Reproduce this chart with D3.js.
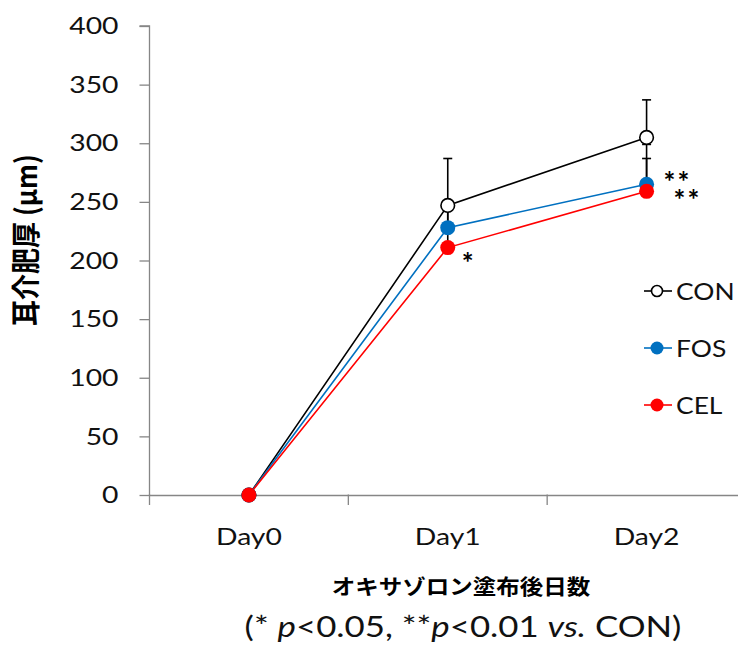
<!DOCTYPE html>
<html><head><meta charset="utf-8">
<script src="https://cdn.jsdelivr.net/npm/d3@7"></script>
<style>body{margin:0;background:#fff}svg{display:block}</style>
</head><body>
<svg id="c" width="738" height="646"></svg>
<script>
const categories = ["Day0", "Day1", "Day2"];
const yTicks = [0, 50, 100, 150, 200, 250, 300, 350, 400];
const seriesNames = ["CON", "FOS", "CEL"];
const conValues = [0, 247, 305];
const fosValues = [0, 228, 265];
const celValues = [0, 211, 259];
const conErr = [0, 40, 32];
const fosErr = [0, 17, 22];
const celErr = [0, 34, 40];
const signif = [
  {cat: "Day1", value: 211, label: "*"},
  {cat: "Day2", value: 265, label: "**"},
  {cat: "Day2", value: 259, label: "**"}
];

(function () {
const series = [
  {name: "CON", values: conValues, err: conErr, color: "#000", fill: "#fff"},
  {name: "FOS", values: fosValues, err: fosErr, color: "#0070C0", fill: "#0070C0"},
  {name: "CEL", values: celValues, err: celErr, color: "#FF0000", fill: "#FF0000"}
];
const sigOffsets = [[14, 25], [17, 8], [27, 19]];

const svg = d3.select("#c");
const font = "Lato, 'Open Sans', 'Liberation Sans', sans-serif";
const cjk = "'Noto Sans CJK JP', sans-serif";
const SX = 1.18;
const axisColor = "#868686";
const mLeft = 149.5, mRight = 746, mTop = 26, mBottom = 495;
const x = d3.scaleBand().domain(categories).range([mLeft, mRight]);
const y = d3.scaleLinear().domain([0, 400]).range([mBottom, mTop]);
const cx = c => x(c) + x.bandwidth() / 2;

// y axis
const ya = svg.append("g").attr("transform", `translate(${mLeft},0)`)
  .call(d3.axisLeft(y).tickValues(yTicks).tickSize(10));
ya.select(".domain").attr("stroke", axisColor).attr("stroke-width", 1.3).attr("d", `M-10,${mTop}H0V${mBottom}`);
ya.selectAll(".tick line").attr("stroke", axisColor).attr("stroke-width", 1.3);
ya.selectAll(".tick text").attr("font-family", font).attr("font-size", 24).attr("fill", "#111")
  .attr("x", -31 / SX).attr("transform", `scale(${SX},1)`);

// x axis
const xa = svg.append("g").attr("transform", `translate(0,${mBottom})`)
  .call(d3.axisBottom(x).tickSize(0).tickPadding(0));
xa.select(".domain").attr("stroke", axisColor).attr("stroke-width", 1.3);
xa.selectAll(".tick text").attr("font-family", font).attr("font-size", 24).attr("fill", "#111")
  .attr("dy", 0).attr("y", 50).attr("transform", `scale(${SX},1)`);
xa.selectAll(".sep").data(categories.map(c => x(c))).enter().append("line")
  .attr("x1", d => d).attr("x2", d => d).attr("y1", -0.5).attr("y2", 10)
  .attr("stroke", axisColor).attr("stroke-width", 1.3);

// error bars (plus only)
series.forEach(s => {
  const g = svg.append("g");
  categories.forEach((c, i) => {
    if (!s.err[i]) return;
    const px = cx(c), y0 = y(s.values[i]), y1 = y(s.values[i] + s.err[i]);
    g.append("line").attr("x1", px).attr("x2", px).attr("y1", y0).attr("y2", y1).attr("stroke", "#000").attr("stroke-width", 1.6);
    g.append("line").attr("x1", px - 4.5).attr("x2", px + 4.5).attr("y1", y1).attr("y2", y1).attr("stroke", "#000").attr("stroke-width", 1.6);
  });
});

// lines
const line = d3.line().x((d, i) => cx(categories[i])).y(d => y(d));
series.forEach(s => {
  svg.append("path").datum(s.values).attr("d", line).attr("fill", "none")
    .attr("stroke", s.color).attr("stroke-width", 1.6);
});
// markers
series.forEach(s => {
  svg.append("g").selectAll("circle").data(s.values).enter().append("circle")
    .attr("cx", (d, i) => cx(categories[i])).attr("cy", d => y(d)).attr("r", s.name === "CON" ? 6.8 : 7.5)
    .attr("fill", s.fill).attr("stroke", s.color).attr("stroke-width", s.name === "CON" ? 1.6 : 0);
});

// significance (one text per category, one tspan per mark)
const sigItems = signif.map((d, i) => ({...d, dx: sigOffsets[i][0], dy: sigOffsets[i][1]}));
const sigGroups = Array.from(d3.group(sigItems, d => d.cat));
const st = svg.append("g").selectAll("text").data(sigGroups).enter().append("text")
  .attr("font-family", font).attr("font-size", 28).attr("font-weight", "bold").attr("letter-spacing", 2)
  .attr("fill", "#000");
st.selectAll("tspan").data(d => d[1]).enter().append("tspan")
  .attr("x", d => cx(d.cat) + d.dx).attr("y", d => y(d.value) + d.dy).text(d => d.label);

// legend
const lg = svg.append("g");
series.forEach((s, i) => {
  const ly = 291 + i * 57;
  lg.append("line").attr("x1", 644).attr("x2", 672).attr("y1", ly).attr("y2", ly).attr("stroke", s.color).attr("stroke-width", 1.6);
  lg.append("circle").attr("cx", 657).attr("cy", ly).attr("r", s.name === "CON" ? 5.5 : 6.5)
    .attr("fill", s.fill).attr("stroke", s.color).attr("stroke-width", s.name === "CON" ? 1.6 : 0);
  lg.append("text").attr("transform", `translate(676,${ly + 9}) scale(1.1,1)`)
    .attr("font-family", font).attr("font-size", 24).attr("fill", "#111").text(s.name);
});

// axis titles
svg.append("text").attr("transform", "translate(37,240) scale(1.12,1) rotate(-90)").attr("text-anchor", "middle")
  .attr("font-family", cjk).attr("font-weight", "bold").attr("font-size", 26)
  .attr("fill", "#000").text("耳介肥厚 (μm)");
svg.append("text").attr("transform", "translate(461,594) scale(1.12,1)").attr("text-anchor", "middle")
  .attr("font-family", cjk).attr("font-weight", "bold").attr("font-size", 21)
  .attr("fill", "#000").text("オキサゾロン塗布後日数");
const fn = svg.append("text").attr("transform", `translate(463,637) scale(${SX},1)`).attr("text-anchor", "middle")
  .attr("font-family", font).attr("font-size", 29.5).attr("fill", "#111");
fn.append("tspan").text("(* ");
fn.append("tspan").attr("font-style", "italic").text("p");
fn.append("tspan").text("<0.05, **");
fn.append("tspan").attr("font-style", "italic").text("p");
fn.append("tspan").text("<0.01 ");
fn.append("tspan").attr("font-style", "italic").text("vs.");
fn.append("tspan").text(" CON)");
})();
</script>
</body></html>
